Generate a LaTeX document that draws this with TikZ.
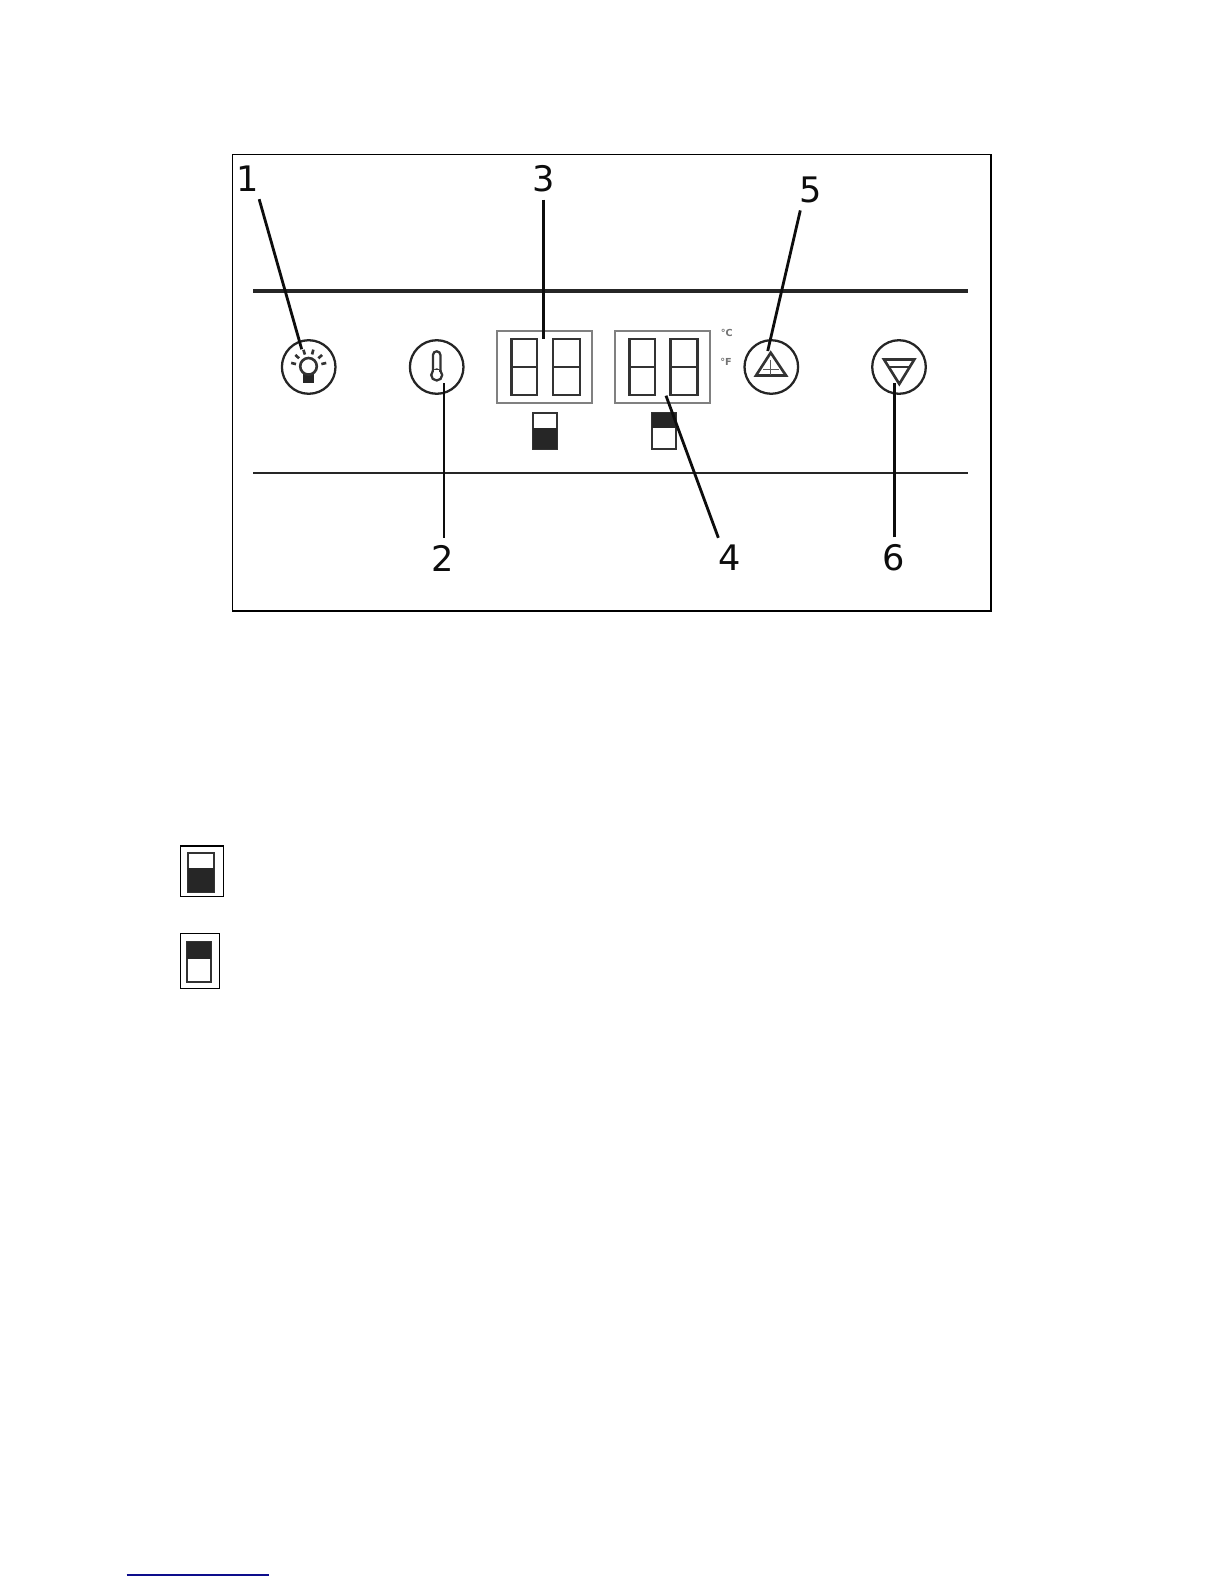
\documentclass[tikz,border=0pt]{standalone}
\usepackage{fontspec}
\setmainfont{DejaVu Sans}
\usetikzlibrary{calc}
\definecolor{LeadClr}{rgb}{0.05,0.05,0.05}
\definecolor{BoxClr}{rgb}{0.5,0.5,0.5}
\definecolor{UnitClr}{rgb}{0.45,0.45,0.45}
\definecolor{LinkClr}{rgb}{0.05,0.05,0.55}
\tikzset{
  btn/.style={circle,draw=LeadClr!90,line width=1.3pt,minimum size=30.5pt,inner sep=0pt},
  callout/.style={font=\fontsize{20}{20}\selectfont,text=LeadClr,inner sep=4pt},
  unit/.style={font=\fontsize{5.5}{6}\selectfont\bfseries,text=UnitClr,inner sep=0pt},
  lead/.style={line width=1.6pt,draw=LeadClr},
  rail/.style={draw=black!85},
  panel/.style={draw=BoxClr,line width=1pt,minimum width=54pt,minimum height=41pt,inner sep=0pt},
  digit/.style={line width=1.4pt,draw=black!80},
  glyph/.style={line width=1.3pt,draw=black!80},
  frameline/.style={line width=0.7pt},
}
\newcommand{\DigitPair}[2]{%
  \draw[digit] (#1,339) rectangle (#1+25.5,395);
  \draw[digit,line width=1pt] (#1,367) -- (#1+25.5,367);
  \draw[digit] (#2,339) rectangle (#2+27,395);
  \draw[digit,line width=1pt] (#2,367) -- (#2+27,367);
}
\begin{document}
\begin{tikzpicture}[x=0.02cm,y=-0.02cm]
\useasboundingbox (0,0) rectangle (1224,1584);

% frame and rails
\draw[line width=0.6pt] (232.5,154.5) rectangle (991,611);
\draw[rail,line width=2.3pt] (253,291) -- (968,291);
\draw[rail,line width=1.5pt] (253,473) -- (968,473);

% buttons
\node[btn] (lamp) at (308.7,367) {};
\node[btn] (thermo) at (436.7,367) {};
\node[btn] (up) at (771.3,367) {};
\node[btn] (down) at (899,367) {};

% lamp
\fill[black!85] (303.3,374) rectangle (314.3,382.7);
\draw[glyph,line width=1.5pt,fill=white] (308.5,366.3) circle (8.3);
\foreach \a in {13,42,75,107,138,167}
  \draw[glyph,line width=1.5pt] ($(lamp)+({cos(\a)*13},{-sin(\a)*13})$) -- ($(lamp)+({cos(\a)*18},{-sin(\a)*18})$);

% thermometer
\draw[glyph] (433,372) -- (433,355) arc (180:0:3.7 and -3.7) -- (440.4,372);
\draw[glyph,fill=white] (436.7,375) circle (5.5);
\fill[white] (434,370) rectangle (439.4,374);

% up and down
\draw[glyph,line width=1.5pt] (770.7,352.7) -- (786,375.5) -- (756,375.5) -- cycle;
\draw[glyph,line width=0.8pt,draw=black!65] (763,369.3) -- (779,369.3) (770.7,360) -- (770.7,375.5);
\draw[glyph,line width=1.5pt] (884,359.5) -- (914.3,359.5) -- (899.3,384) -- cycle;
\draw[glyph,line width=1pt] (889,367) -- (909.5,367);

% displays
\node[panel] (dispa) at (544.3,367) {};
\node[panel] (dispb) at (662.5,367) {};
\DigitPair{511.7}{553}
\DigitPair{629.5}{670.5}

% units
\node[unit] (cel) at (726.7,332.7) {°C};
\node[unit] (fah) at (726,361.7) {°F};

% indicators
\draw[glyph] (532.7,413) rectangle (557,449);
\fill[black!85] (532.7,428) rectangle (557,449);
\draw[glyph] (651.7,413) rectangle (675.7,449);
\fill[black!85] (651.7,413) rectangle (675.7,428);

% legend icons
\draw[frameline] (180.3,846) rectangle (223.3,896.3);
\draw[glyph] (188.3,853.3) rectangle (214,891.7);
\fill[black!85] (188.3,868.3) rectangle (214,891.7);
\draw[frameline] (180.3,933.3) rectangle (219.3,988.3);
\draw[glyph] (186.7,941.7) rectangle (210.7,981.7);
\fill[black!85] (186.7,941.7) rectangle (210.7,959.3);

% callouts
\node[callout] (lbla) at (247.5,179) {1};
\node[callout] (lblb) at (442.9,558) {2};
\node[callout] (lblc) at (543.4,179) {3};
\node[callout] (lbld) at (730,558) {4};
\node[callout] (lble) at (810.7,190) {5};
\node[callout] (lblf) at (894,558) {6};

\coordinate (tipa) at (301.7,349.3);
\coordinate (tipb) at (444,383);
\coordinate (tipc) at (543.3,339);
\coordinate (tipd) at (666,395.7);
\coordinate (tipe) at (767.7,351);
\coordinate (tipf) at (894.7,383);

\draw[lead] (lbla.-60) -- (tipa);
\draw[lead] (lblb.north -| tipb) -- (tipb);
\draw[lead] (lblc.south -| tipc) -- (tipc);
\draw[lead] (lbld.120) -- (tipd);
\draw[lead] (lble.-117) -- (tipe);
\draw[lead] (lblf.north -| tipf) -- (tipf);

% link rule at the foot
\draw[LinkClr,line width=0.8pt] (126.7,1575) -- (269,1575);
\end{tikzpicture}
\end{document}
